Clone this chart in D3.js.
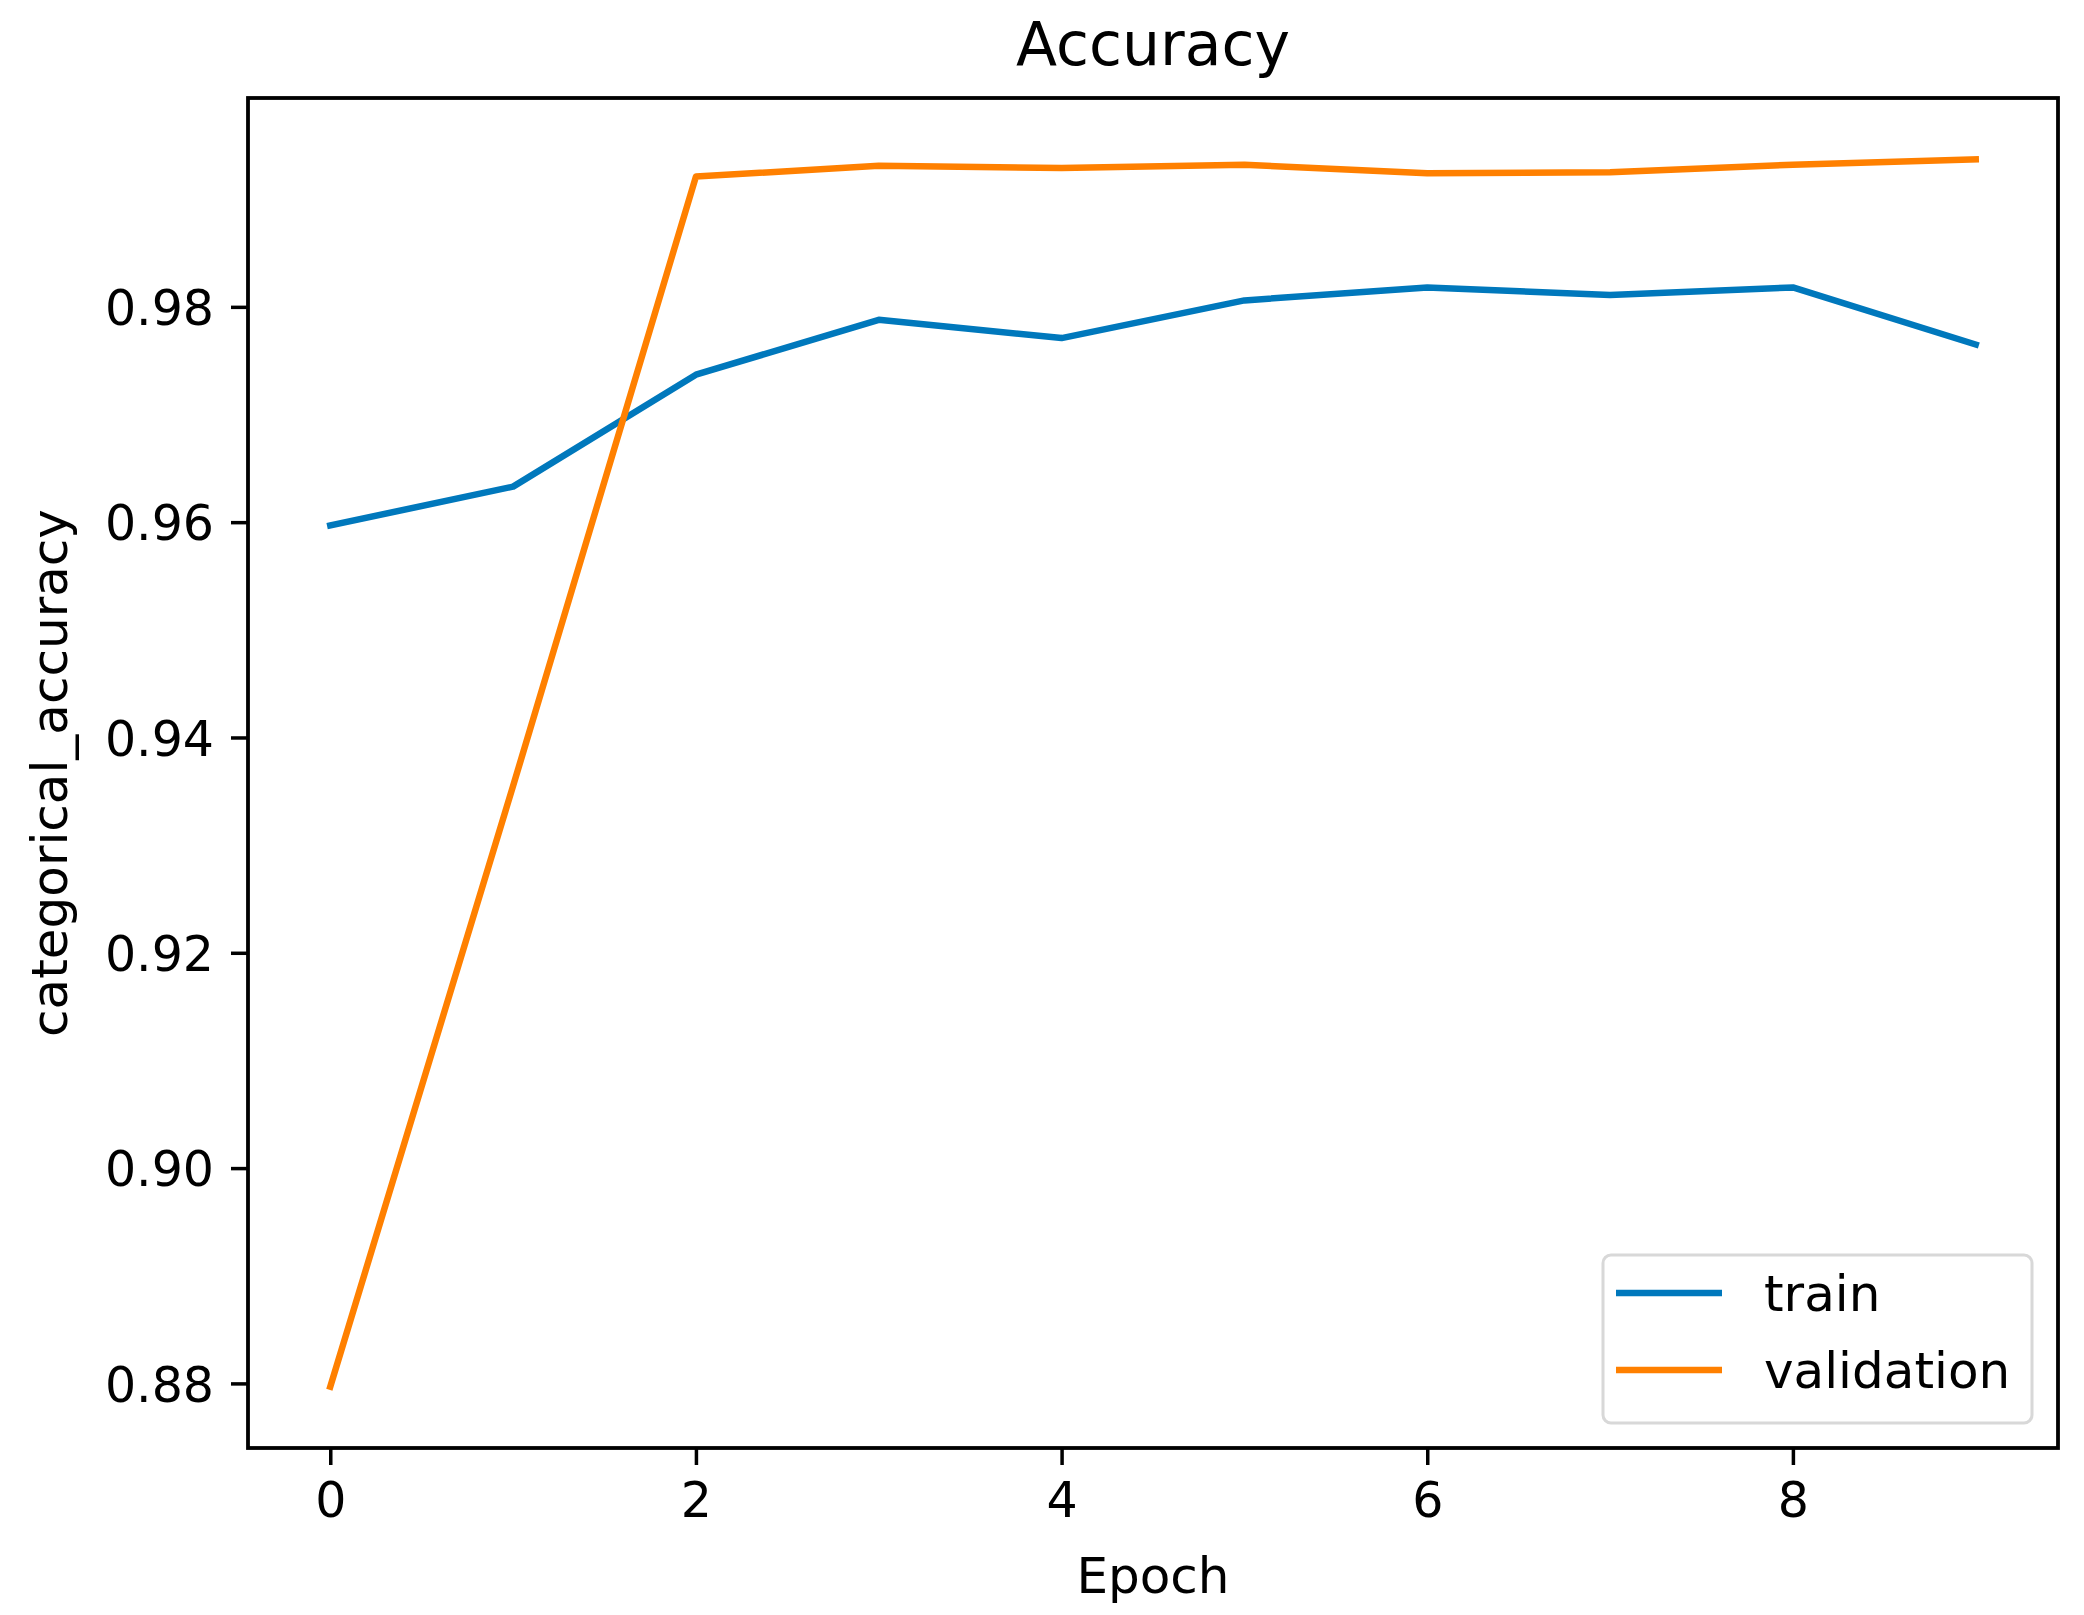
<!DOCTYPE html>
<html>
<head>
<meta charset="utf-8">
<script src="https://cdn.jsdelivr.net/npm/d3@7"></script>
<style>
  html, body { margin: 0; padding: 0; background: #fff; }
  svg { display: block; }
  text { font-family: "DejaVu Sans", sans-serif; fill: #000; }
</style>
</head>
<body>
<svg id="chart" width="2084" height="1615"></svg>
<script>
// ---- data ----
const epochs = [0, 1, 2, 3, 4, 5, 6, 7, 8, 9];
const trainAcc = [0.9597, 0.9633, 0.9737, 0.9788, 0.9771, 0.9806, 0.9818, 0.9811, 0.9818, 0.9765];
const valAcc = [0.8797, 0.9355, 0.9921, 0.9931, 0.9929, 0.9932, 0.9924, 0.9925, 0.9932, 0.9937];
const xTicks = [0, 2, 4, 6, 8];
const yTicks = [0.88, 0.90, 0.92, 0.94, 0.96, 0.98];
const seriesNames = ["train", "validation"];
const seriesColors = ["#0078bc", "#ff8000"];

// ---- layout ----
const svg = d3.select("#chart");
const L = 248, R = 2058, T = 98, B = 1448;

// matplotlib-like 5% margins
const xmin = d3.min(epochs), xmax = d3.max(epochs);
const xr = xmax - xmin;
const allY = trainAcc.concat(valAcc);
const ymin = d3.min(allY), ymax = d3.max(allY);
const yr = ymax - ymin;

const x = d3.scaleLinear().domain([xmin - 0.05 * xr, xmax + 0.05 * xr]).range([L, R]);
const y = d3.scaleLinear().domain([ymin - 0.05 * yr, ymax + 0.05 * yr]).range([B, T]);

const tickFs = 49;
const fs = 50;
const tickLen = 17;

// axes
const xAxis = svg.append("g")
  .attr("transform", `translate(0,${B})`)
  .call(d3.axisBottom(x).tickValues(xTicks).tickFormat(d3.format("d")).tickSize(tickLen).tickPadding(17));
const yAxis = svg.append("g")
  .attr("transform", `translate(${L},0)`)
  .call(d3.axisLeft(y).tickValues(yTicks).tickFormat(d3.format(".2f")).tickSize(tickLen).tickPadding(17));

[xAxis, yAxis].forEach(g => {
  g.select(".domain").remove();
  g.selectAll(".tick line").attr("stroke", "#000").attr("stroke-width", 3.5);
  g.selectAll(".tick text").style("font-family", "DejaVu Sans").style("font-size", tickFs + "px").attr("fill", "#000");
});
yAxis.selectAll(".tick text").attr("dy", "0.36em");

// lines
const line = d3.line().x((d, i) => x(epochs[i])).y(d => y(d));
const series = [trainAcc, valAcc];
series.forEach((s, k) => {
  svg.append("path")
    .datum(s)
    .attr("d", line)
    .attr("fill", "none")
    .attr("stroke", seriesColors[k])
    .attr("stroke-width", 6.5)
    .attr("stroke-linejoin", "round")
    .attr("stroke-linecap", "square");
});

// frame
svg.append("rect")
  .attr("x", L).attr("y", T)
  .attr("width", R - L).attr("height", B - T)
  .attr("fill", "none").attr("stroke", "#000").attr("stroke-width", 3.8);

// title and axis labels
svg.append("text")
  .attr("x", (L + R) / 2).attr("y", 65)
  .attr("text-anchor", "middle")
  .style("font-size", "60px")
  .text("Accuracy");

svg.append("text")
  .attr("x", (L + R) / 2).attr("y", 1593)
  .attr("text-anchor", "middle")
  .style("font-size", fs + "px")
  .text("Epoch");

svg.append("text")
  .attr("transform", `translate(67,${(T + B) / 2}) rotate(-90)`)
  .attr("text-anchor", "middle")
  .style("font-size", fs + "px")
  .text("categorical_accuracy");

// legend
const lg = svg.append("g");
lg.append("rect")
  .attr("x", 1603).attr("y", 1255)
  .attr("width", 429).attr("height", 168)
  .attr("rx", 8).attr("ry", 8)
  .attr("fill", "#fff").attr("fill-opacity", 0.8)
  .attr("stroke", "#d8d8d8").attr("stroke-width", 3);
const legY = [1293, 1370];
seriesNames.forEach((name, k) => {
  lg.append("line")
    .attr("x1", 1616).attr("x2", 1722)
    .attr("y1", legY[k]).attr("y2", legY[k])
    .attr("stroke", seriesColors[k]).attr("stroke-width", 6.5);
  lg.append("text")
    .attr("x", 1764).attr("y", legY[k] + 18)
    .style("font-size", fs + "px")
    .text(name);
});
</script>
</body>
</html>
